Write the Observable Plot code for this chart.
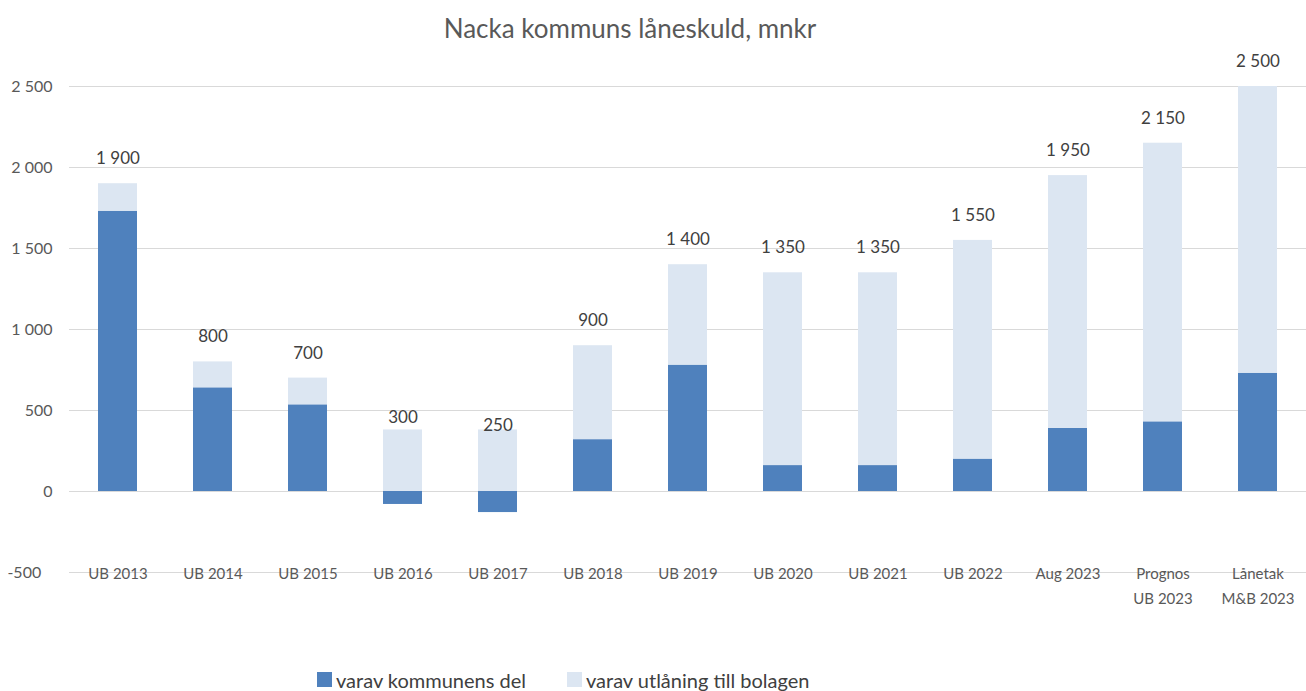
<!DOCTYPE html>
<html>
<head>
<meta charset="utf-8">
<script src="https://cdn.jsdelivr.net/npm/d3@7"></script>
<script src="https://cdn.jsdelivr.net/npm/@observablehq/plot@0.6"></script>
<style>
  html, body { margin: 0; padding: 0; background: #fff; }
  body { width: 1306px; height: 691px; overflow: hidden; font-family: Lato, "Open Sans", sans-serif; }
  #title { height: 44px; padding-top: 6px; line-height: 44px; font-size: 26px; color: #595959; text-align: center; padding-right: 46px; }
  #chart svg { display: block; overflow: visible; }
  #legend { height: 61px; box-sizing: border-box; padding-top: 38px; padding-left: 317px; line-height: 24px; font-size: 20px; color: #404040; display: flex; align-items: center; white-space: nowrap; }
  .sw { display: inline-block; width: 15px; height: 15px; margin-right: 4px; }
  .item { display: flex; align-items: center; margin-right: 41px; }
</style>
</head>
<body>
<div id="title">Nacka kommuns låneskuld, mnkr</div>
<div id="chart"></div>
<div id="legend"></div>
<script>
const categories = ["UB 2013", "UB 2014", "UB 2015", "UB 2016", "UB 2017", "UB 2018", "UB 2019", "UB 2020", "UB 2021", "UB 2022", "Aug 2023", "Prognos\nUB 2023", "Lånetak\nM&B 2023"];
const totals = [1900, 800, 700, 300, 250, 900, 1400, 1350, 1350, 1550, 1950, 2150, 2500];
const kommunensDel = [1730, 640, 535, -80, -130, 320, 780, 160, 160, 200, 390, 430, 730];
const utlaningBolagen = [170, 160, 165, 380, 380, 580, 620, 1190, 1190, 1350, 1560, 1720, 1770];
const seriesNames = ["varav kommunens del", "varav utlåning till bolagen"];
const seriesColors = ["#4f81bd", "#dce6f2"];
const yTicks = [-500, 0, 500, 1000, 1500, 2000, 2500];

const locale = d3.formatLocale({decimal: ",", thousands: "\u00a0", grouping: [3], currency: ["", ""], minus: "-"});
const fmt = locale.format(",");

const rows = [];
categories.forEach((c, i) => {
  rows.push({cat: c, series: seriesNames[0], value: kommunensDel[i]});
  rows.push({cat: c, series: seriesNames[1], value: utlaningBolagen[i]});
});
const totalRows = categories.map((c, i) => ({cat: c, total: totals[i]}));

const chart = Plot.plot({
  width: 1306,
  height: 580,
  marginTop: 36,
  marginBottom: 58,
  marginLeft: 69,
  marginRight: 0,
  style: {fontFamily: "Lato, 'Open Sans', sans-serif", background: "white"},
  x: {domain: categories, paddingInner: 0.59, paddingOuter: 0.295, axis: null},
  y: {domain: [-500, 2500], axis: null},
  color: {domain: seriesNames, range: seriesColors},
  marks: [
    Plot.gridY(yTicks, {stroke: "#d9d9d9", strokeOpacity: 1, strokeWidth: 1}),
    Plot.axisY(yTicks, {
      tickSize: 0, tickPadding: 17, fontSize: 16, color: "#595959",
      tickFormat: d => d < 0 ? fmt(d) + "\u2007\u2009" : fmt(d)
    }),
    Plot.barY(rows, {x: "cat", y: "value", fill: "series", order: seriesNames}),
    Plot.text(totalRows, {x: "cat", y: "total", text: d => fmt(d.total), dy: -25, fontSize: 17, fill: "#404040"}),
    Plot.text(categories, {x: d => d, y: () => -500, text: d => d, lineAnchor: "top", dy: -11, lineHeight: 1.67, fontSize: 15, fill: "#595959"})
  ]
});
document.getElementById("chart").appendChild(chart);

const legend = document.getElementById("legend");
seriesNames.forEach((s, i) => {
  const item = document.createElement("span");
  item.className = "item";
  const sw = document.createElement("span");
  sw.className = "sw";
  sw.style.background = seriesColors[i];
  item.appendChild(sw);
  item.appendChild(document.createTextNode(s));
  legend.appendChild(item);
});
</script>
</body>
</html>
